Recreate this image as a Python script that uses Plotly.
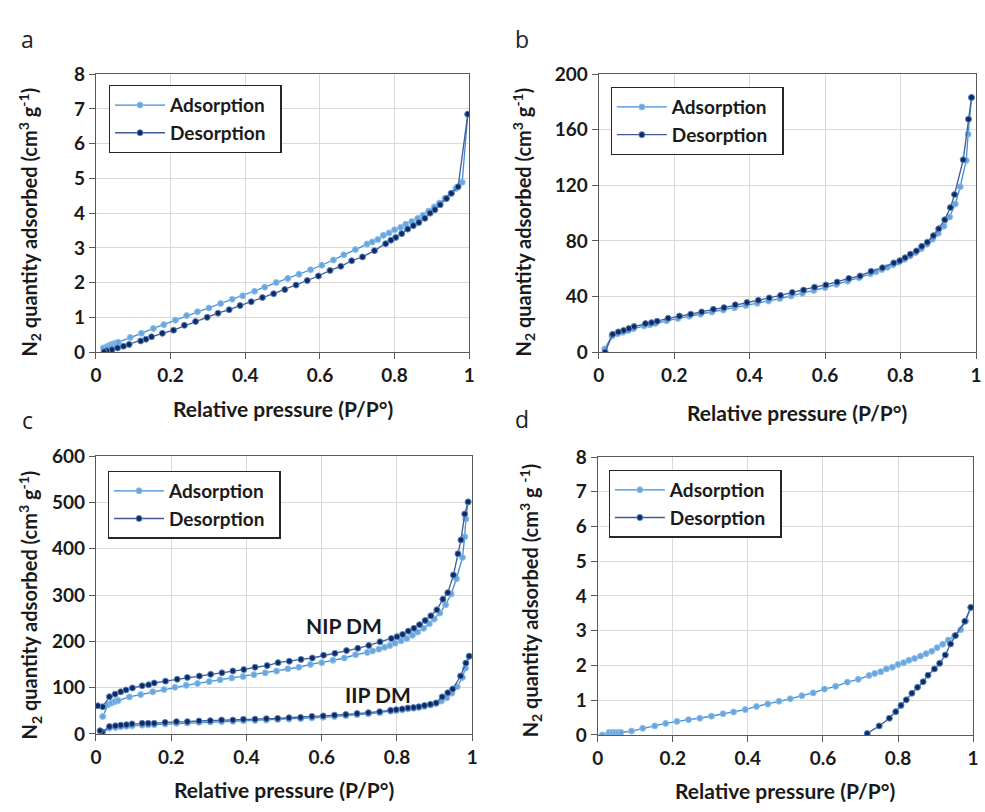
import plotly.graph_objects as go

# ---------------- data ----------------
# Panel a
a_ads_x = [0.020, 0.030, 0.036, 0.042, 0.048, 0.054, 0.060, 0.092, 0.122, 0.154, 0.182, 0.213, 0.243, 0.272, 0.303,
           0.334, 0.365, 0.393, 0.425, 0.452, 0.483, 0.514, 0.544, 0.575, 0.605, 0.636, 0.664, 0.695, 0.726,
           0.740, 0.755, 0.770, 0.785, 0.800, 0.816, 0.830, 0.846, 0.862, 0.876, 0.891, 0.906, 0.920, 0.935,
           0.951, 0.964, 0.981, 0.996]
a_ads_y = [0.12, 0.16, 0.19, 0.22, 0.24, 0.26, 0.28, 0.42, 0.54, 0.68, 0.79, 0.92, 1.05, 1.16, 1.27,
           1.40, 1.52, 1.62, 1.75, 1.87, 2.00, 2.12, 2.24, 2.37, 2.50, 2.65, 2.80, 2.95, 3.11,
           3.17, 3.24, 3.36, 3.43, 3.52, 3.59, 3.68, 3.76, 3.85, 3.94, 4.06, 4.18, 4.29, 4.43,
           4.57, 4.71, 4.89, 6.85]
a_des_x = [0.996, 0.970, 0.952, 0.939, 0.922, 0.908, 0.895, 0.881, 0.865, 0.850, 0.835, 0.819, 0.803, 0.790,
           0.776, 0.746, 0.714, 0.685, 0.656, 0.627, 0.596, 0.566, 0.536, 0.506, 0.476, 0.446, 0.416, 0.386,
           0.357, 0.327, 0.298, 0.267, 0.237, 0.208, 0.178, 0.149, 0.134, 0.120, 0.089, 0.074, 0.058, 0.043,
           0.029, 0.022]
a_des_y = [6.85, 4.76, 4.57, 4.42, 4.24, 4.10, 4.00, 3.85, 3.73, 3.64, 3.54, 3.41, 3.30, 3.22,
           3.12, 2.92, 2.74, 2.63, 2.47, 2.35, 2.19, 2.06, 1.93, 1.80, 1.68, 1.57, 1.45, 1.34,
           1.22, 1.12, 1.00, 0.88, 0.77, 0.63, 0.54, 0.44, 0.37, 0.32, 0.22, 0.17, 0.12, 0.07,
           0.04, 0.01]

# Panel b
b_ads_x = [0.016, 0.035, 0.050, 0.064, 0.078, 0.092, 0.120, 0.135, 0.150, 0.180, 0.210, 0.240, 0.270, 0.300,
           0.330, 0.360, 0.390, 0.420, 0.450, 0.480, 0.510, 0.540, 0.570, 0.600, 0.630, 0.660, 0.690, 0.720,
           0.735, 0.750, 0.765, 0.780, 0.795, 0.810, 0.825, 0.840, 0.855, 0.870, 0.885, 0.900, 0.915, 0.930,
           0.945, 0.958, 0.974, 0.979, 0.988]
b_ads_y = [2.3, 11.5, 13.2, 14.3, 15.5, 16.8, 18.8, 19.6, 20.6, 22.5, 24.2, 25.8, 27.3, 28.8,
           30.3, 31.9, 33.5, 35.1, 36.8, 38.5, 40.4, 42.3, 44.3, 46.4, 48.7, 51.0, 53.5, 56.3,
           57.8, 59.4, 61.0, 62.8, 64.7, 66.8, 69.1, 71.6, 74.4, 77.6, 81.2, 85.5, 90.6, 97.2,
           106.6, 119.0, 137.9, 156.8, 183.2]
b_des_x = [0.988, 0.980, 0.966, 0.943, 0.932, 0.917, 0.901, 0.887, 0.871, 0.856, 0.842, 0.826, 0.812, 0.798,
           0.782, 0.752, 0.722, 0.693, 0.663, 0.632, 0.602, 0.572, 0.543, 0.513, 0.482, 0.452, 0.423, 0.393,
           0.362, 0.332, 0.304, 0.273, 0.244, 0.214, 0.184, 0.155, 0.140, 0.124, 0.094, 0.080, 0.066, 0.052,
           0.037, 0.017]
b_des_y = [183.2, 167.6, 138.4, 113.4, 104.0, 95.2, 88.7, 83.8, 79.1, 76.1, 72.8, 70.5, 67.9, 65.8,
           64.2, 60.7, 58.1, 54.8, 53.0, 50.4, 48.3, 46.7, 44.6, 42.9, 40.8, 39.0, 37.3, 35.7,
           34.0, 32.0, 30.8, 28.9, 27.3, 25.9, 24.3, 22.2, 21.2, 20.5, 18.4, 17.0, 15.6, 14.5,
           12.8, 0.0]

# Panel c - NIP DM
c_nip_ads_x = [0.018, 0.033, 0.042, 0.051, 0.059, 0.089, 0.119, 0.151, 0.181, 0.210, 0.240, 0.270, 0.301, 0.330,
               0.361, 0.391, 0.420, 0.450, 0.480, 0.510, 0.539, 0.570, 0.600, 0.630, 0.660, 0.690, 0.721,
               0.735, 0.752, 0.767, 0.781, 0.795, 0.811, 0.826, 0.841, 0.855, 0.871, 0.886, 0.899, 0.914,
               0.929, 0.944, 0.958, 0.974, 0.980, 0.983, 0.989]
c_nip_ads_y = [37.8, 63.6, 67, 70, 72, 80, 85, 91, 96, 100.7, 105, 109, 113, 117,
               121, 124, 128, 132, 135.7, 140.6, 144, 150, 154, 159, 164, 171, 176,
               179, 183, 187, 191, 196, 201, 206, 213, 220, 228, 238, 248, 261,
               279, 302, 335, 381, 426, 464, 501]
c_nip_des_x = [0.989, 0.980, 0.970, 0.962, 0.950, 0.935, 0.922, 0.906, 0.890, 0.875, 0.860, 0.845, 0.830, 0.815,
               0.800, 0.785, 0.755, 0.725, 0.696, 0.666, 0.635, 0.605, 0.575, 0.545, 0.514, 0.484, 0.455,
               0.423, 0.393, 0.364, 0.335, 0.305, 0.275, 0.243, 0.216, 0.185, 0.155, 0.140, 0.123, 0.097,
               0.080, 0.066, 0.051, 0.036, 0.018, 0.005]
c_nip_des_y = [501, 475, 419, 389, 343, 305, 291, 268, 255, 245, 236, 228, 222, 215,
               210, 206, 199, 191, 185, 180, 174, 170, 164, 161, 157, 154, 147.6,
               144, 139, 136, 132, 128.7, 125, 122, 118, 114, 110, 106, 104, 99.3,
               95, 91, 86, 80.4, 58.7, 60.8]
# Panel c - IIP DM
c_iip_ads_x = [0.018, 0.036, 0.052, 0.066, 0.081, 0.096, 0.123, 0.139, 0.155, 0.184, 0.214, 0.243, 0.274, 0.304,
               0.334, 0.364, 0.392, 0.423, 0.453, 0.483, 0.513, 0.544, 0.574, 0.604, 0.634, 0.664, 0.694,
               0.724, 0.754, 0.783, 0.798, 0.814, 0.829, 0.844, 0.858, 0.873, 0.889, 0.904, 0.918, 0.932,
               0.946, 0.960, 0.974, 0.982, 0.992]
c_iip_ads_y = [3.5, 12.6, 14, 15.5, 16.5, 17.5, 19, 19.5, 20, 21.5, 23, 23.5, 25, 25.8,
               26.6, 27.3, 28.5, 29.3, 30, 31, 32, 33, 34.6, 36, 37.6, 39.5, 41.5,
               43.5, 46, 49, 50.5, 52, 54, 55.5, 57, 59.5, 62.5, 66, 71, 78,
               88, 102, 122, 142, 168]
c_iip_des_x = [0.992, 0.983, 0.969, 0.948, 0.935, 0.920, 0.904, 0.889, 0.873, 0.858, 0.844, 0.829, 0.814, 0.798,
               0.783, 0.754, 0.724, 0.694, 0.664, 0.634, 0.604, 0.574, 0.544, 0.513, 0.483, 0.453, 0.423,
               0.392, 0.364, 0.334, 0.304, 0.274, 0.243, 0.214, 0.184, 0.155, 0.139, 0.123, 0.096, 0.081,
               0.066, 0.052, 0.036, 0.017, 0.011]
c_iip_des_y = [168, 153, 125, 97, 89, 80, 67, 64, 61.5, 58.7, 57, 56, 54, 52.4,
               51, 48, 46, 44, 42, 40.6, 39, 37.8, 35.7, 35, 33.6, 33, 32,
               31.5, 30, 30, 28.7, 28, 26.6, 26.6, 25, 23, 23, 23, 21.7, 20,
               19, 17.5, 16, 4.2, 7]

# Panel d
d_ads_x = [0.012, 0.030, 0.039, 0.047, 0.055, 0.062, 0.090, 0.120, 0.152, 0.181, 0.211, 0.242, 0.272, 0.303,
           0.334, 0.362, 0.393, 0.423, 0.453, 0.483, 0.513, 0.544, 0.574, 0.604, 0.634, 0.665, 0.694,
           0.723, 0.738, 0.754, 0.769, 0.785, 0.800, 0.815, 0.829, 0.844, 0.860, 0.875, 0.890, 0.904,
           0.919, 0.934, 0.951, 0.967, 0.980, 0.994]
d_ads_y = [0.00, 0.07, 0.07, 0.07, 0.07, 0.07, 0.11, 0.19, 0.26, 0.33, 0.39, 0.44, 0.48, 0.54,
           0.61, 0.66, 0.73, 0.82, 0.89, 0.97, 1.04, 1.13, 1.21, 1.32, 1.40, 1.52, 1.60,
           1.71, 1.77, 1.82, 1.90, 1.95, 2.03, 2.08, 2.15, 2.20, 2.27, 2.34, 2.41, 2.51,
           2.61, 2.73, 2.85, 3.03, 3.28, 3.67]
d_des_x = [0.994, 0.978, 0.953, 0.940, 0.926, 0.911, 0.897, 0.880, 0.867, 0.852, 0.837, 0.822, 0.808, 0.794,
           0.777, 0.750, 0.718]
d_des_y = [3.67, 3.27, 2.86, 2.62, 2.30, 2.06, 1.90, 1.72, 1.53, 1.37, 1.20, 1.01, 0.85, 0.67,
           0.48, 0.26, 0.04]

x_ticks = [0, 0.2, 0.4, 0.6, 0.8, 1]
y_ticks_a = [0, 1, 2, 3, 4, 5, 6, 7, 8]
y_ticks_b = [0, 40, 80, 120, 160, 200]
y_ticks_c = [0, 100, 200, 300, 400, 500, 600]
y_ticks_d = [0, 1, 2, 3, 4, 5, 6, 7, 8]
panel_labels = ["a", "b", "c", "d"]
series_names = ["Adsorption", "Desorption"]
curve_labels = ["NIP DM", "IIP DM"]
x_title = "Relative pressure (P/P°)"
y_title = "N<sub>2</sub> quantity adsorbed (cm<sup>3</sup> g<sup>-1</sup>)"
y_title_d = "N<sub>2</sub> quantity adsorbed (cm<sup>3</sup> g <sup>-1</sup>)"

# ---------------- styles ----------------
ADS_LINE = "#3A8EDB"
ADS_MARK = "#6AA6DE"
DES_LINE = "#3F5A94"
DES_MARK = "#0F2B63"
FONT = "Lato"
TXT = "#1a1a1a"
W, H = 985, 812
PAD = "\u00a0\u00a0"

fig = go.Figure()


def add_pair(xa, ya, xd, yd, xaxis, yaxis, legend, show=True):
    fig.add_trace(go.Scatter(
        x=xa, y=ya, mode="lines+markers", name=series_names[0] + PAD,
        line=dict(color=ADS_LINE, width=1.3),
        marker=dict(color=ADS_MARK, size=6, line=dict(color="#8FC0EC", width=1)),
        xaxis=xaxis, yaxis=yaxis, legend=legend, showlegend=show))
    fig.add_trace(go.Scatter(
        x=xd, y=yd, mode="lines+markers", name=series_names[1] + PAD,
        line=dict(color=DES_LINE, width=1.3),
        marker=dict(color=DES_MARK, size=6, line=dict(color="#5C86C4", width=1)),
        xaxis=xaxis, yaxis=yaxis, legend=legend, showlegend=show))


add_pair(a_ads_x, a_ads_y, a_des_x, a_des_y, "x", "y", "legend")
add_pair(b_ads_x, b_ads_y, b_des_x, b_des_y, "x2", "y2", "legend2")
add_pair(c_nip_ads_x, c_nip_ads_y, c_nip_des_x, c_nip_des_y, "x3", "y3", "legend3")
add_pair(c_iip_ads_x, c_iip_ads_y, c_iip_des_x, c_iip_des_y, "x3", "y3", "legend3", show=False)
add_pair(d_ads_x, d_ads_y, d_des_x, d_des_y, "x4", "y4", "legend4")

# plot areas in pixels: (left, right, top, bottom)
areas = [(91, 469, 64, 350), (600, 982, 64, 350), (91, 472, 457, 743), (599, 979, 458, 744)]
yticks = [y_ticks_a, y_ticks_b, y_ticks_c, y_ticks_d]

tickfont = dict(family=FONT, size=19, color=TXT, weight="bold")
layout = dict(width=W, height=H, margin=dict(l=0, r=0, t=0, b=0),
              paper_bgcolor="white", plot_bgcolor="white", showlegend=True)

for i, (l, r, t, b) in enumerate(areas):
    sx = "" if i == 0 else str(i + 1)
    layout["xaxis" + sx] = dict(
        domain=[l / W, r / W], range=[0, 1], tickvals=x_ticks,
        anchor="y" + sx, showgrid=True, gridcolor="#D9D9D9", gridwidth=1,
        showline=True, linecolor="#595959", linewidth=1.3, mirror=True,
        ticks="outside", ticklen=6, tickcolor="#595959", tickfont=tickfont, zeroline=False)
    yt = yticks[i]
    layout["yaxis" + sx] = dict(
        domain=[1 - b / H, 1 - t / H], range=[yt[0], yt[-1]], tickvals=yt,
        anchor="x" + sx, showgrid=True, gridcolor="#D9D9D9", gridwidth=1,
        showline=True, linecolor="#595959", linewidth=1.3, mirror=True,
        ticks="outside", ticklen=6, tickcolor="#595959", tickfont=tickfont, zeroline=False)

# legends: (left, top) in px
leg_pos = [(104, 75), (612, 77), (103, 472), (610, 471)]
for i, (lx, ly) in enumerate(leg_pos):
    key = "legend" if i == 0 else "legend" + str(i + 1)
    layout[key] = dict(
        x=lx / W, y=1 - ly / H, xanchor="left", yanchor="top",
        bgcolor="white", bordercolor="#262626", borderwidth=1.3,
        font=dict(family=FONT, size=19, color=TXT, weight="bold"),
        tracegroupgap=0, itemwidth=50)

fig.update_layout(**layout)

ann = []
# panel labels
for lab, (px, py) in zip(panel_labels, [(22, 28), (522, 28), (22, 420), (522, 419)]):
    ann.append(dict(text=lab, x=px / W, y=1 - py / H, xref="paper", yref="paper",
                    showarrow=False, xanchor="center", yanchor="middle",
                    font=dict(family="Open Sans", size=23, color="#222222")))
# x titles
for (px, py) in [(280, 408), (801, 412), (281, 800), (789, 801)]:
    ann.append(dict(text=x_title, x=px / W, y=1 - py / H, xref="paper", yref="paper",
                    showarrow=False, xanchor="center", yanchor="middle",
                    font=dict(family=FONT, size=21, color=TXT, weight="bold")))
# y titles
for j, (px, py) in enumerate([(24, 216), (524, 216), (24, 610), (531, 606)]):
    ann.append(dict(text=y_title_d if j == 3 else y_title, x=px / W, y=1 - py / H,
                    xref="paper", yref="paper", textangle=-90,
                    showarrow=False, xanchor="center", yanchor="middle",
                    font=dict(family=FONT, size=20, color=TXT, weight="bold")))
# curve labels in panel c
for lab, cx, cy in zip(curve_labels, [0.66, 0.75], [235, 86]):
    ann.append(dict(text=lab, x=cx, y=cy, xref="x3", yref="y3", showarrow=False,
                    font=dict(family=FONT, size=21, color=TXT, weight="bold")))
fig.update_layout(annotations=ann)

fig.write_html("out.html")
